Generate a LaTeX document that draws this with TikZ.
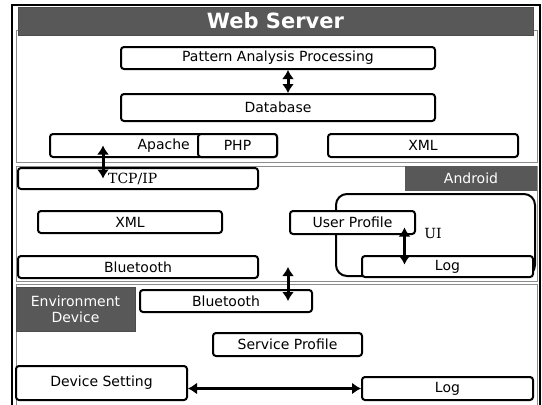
\documentclass[tikz,border=0pt]{standalone}
\usepackage{fontspec}
\setmainfont{DejaVu Sans}
\newfontfamily\slabfont{DejaVu Serif}
\usetikzlibrary{arrows.meta}
\definecolor{darkbar}{RGB}{88,88,88}
\definecolor{secline}{RGB}{140,140,140}
\tikzset{
  box/.style={draw, line width=2pt, rounded corners=3pt, fill=white, inner sep=0pt, font=\fontsize{14}{16}\selectfont},
  tag/.style={fill=darkbar, draw=black!70, text=white, inner sep=0pt, font=\fontsize{14}{16}\selectfont},
  section/.style={draw=secline, line width=1pt},
  dbl/.style={{Latex[length=9pt,width=12pt]}-{Latex[length=9pt,width=12pt]}, line width=3pt},
}

\begin{document}
\begin{tikzpicture}[x=1pt,y=-1pt]
\useasboundingbox (0,0) rectangle (542,405);
% frame and sections
\draw[line width=2.5pt] (12,5) rectangle (540,407);
\draw[section] (16,30) rectangle (537,162);
\draw[section] (16,166) rectangle (537,281);
\draw[section] (16,284) rectangle (537,407);

% web server
\node[tag, minimum width=515pt, minimum height=28pt, font=\fontsize{21}{24}\selectfont\bfseries] (web) at (275.5,21) {Web Server};
\node[box, minimum width=314pt, minimum height=22pt] (pap) at (278,58) {Pattern Analysis Processing};
\node[box, minimum width=314pt, minimum height=27pt] (db) at (278,107.5) {Database};
\node[box, minimum width=227pt, minimum height=23pt] (apache) at (163.5,145.5) {};
\node[font=\fontsize{14}{16}\selectfont, inner sep=0pt, anchor=east] (apachetxt) at (190,145.5) {Apache};
\node[box, minimum width=79pt, minimum height=23pt] (php) at (237.5,145.5) {PHP};
\node[box, minimum width=190pt, minimum height=23pt] (xmlweb) at (423,145.5) {XML};

% android
\node[tag, draw=none, minimum width=132pt, minimum height=25pt] (android) at (471,178.5) {Android};
\node[box, minimum width=240pt, minimum height=21pt] (tcp) at (138,178.5) {};
\node[inner sep=0pt, anchor=west, font=\fontsize{14}{16}\slabfont] (tcptxt) at (108,179) {TCP/IP};
\node[box, rounded corners=11pt, minimum width=199pt, minimum height=82pt] (ui) at (435.5,235) {};
\node[inner sep=0pt, font=\fontsize{14}{16}\slabfont] (uitxt) at (433,233) {UI};
\node[box, minimum width=184pt, minimum height=22pt] (xmlapp) at (130,222) {XML};
\node[box, minimum width=125pt, minimum height=23pt] (up) at (352.5,222.5) {User Profile};
\node[box, minimum width=171pt, minimum height=21pt] (logapp) at (447.5,266.5) {Log};
\node[box, minimum width=240pt, minimum height=22pt] (btapp) at (138,267) {Bluetooth};

% environment device
\node[tag, minimum width=119pt, minimum height=44pt, align=center] (env) at (75.5,309) {Environment\\Device};
\node[box, minimum width=172pt, minimum height=22pt] (btenv) at (226,301) {Bluetooth};
\node[box, minimum width=149pt, minimum height=23pt] (sp) at (287.5,344.5) {Service Profile};
\node[box, minimum width=171pt, minimum height=34pt] (ds) at (101.5,383) {Device Setting};
\node[box, minimum width=171pt, minimum height=23pt] (logenv) at (447.5,388.5) {Log};

% arrows
\draw[dbl] ([xshift=10pt]pap.south) -- ([xshift=10pt]db.north);
\draw[dbl] ([xshift=54pt]apache.west) -- ([xshift=86pt]tcp.west);
\draw[dbl, shorten <=5pt, shorten >=2pt] ([xshift=52pt]up.center) -- ([xshift=-43pt]logapp.center);
\draw[dbl] ([xshift=150pt]btapp.center) -- ([xshift=62pt]btenv.center);
\draw[dbl] (ds.east |- logenv.west) -- (logenv.west);
\end{tikzpicture}
\end{document}
